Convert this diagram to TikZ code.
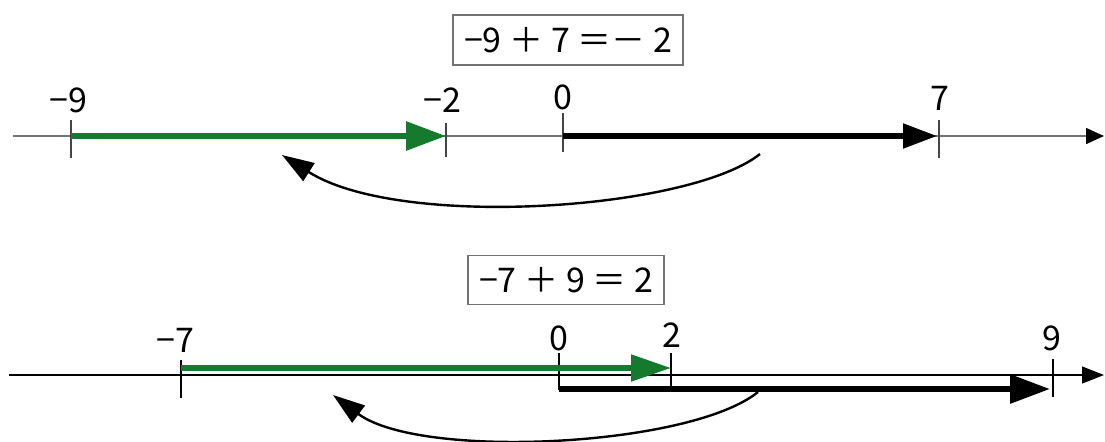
\documentclass[tikz,border=0pt]{standalone}
\usepackage{fontspec}
\setmainfont{Noto Sans CJK JP}
\usetikzlibrary{arrows.meta, calc}
\definecolor{numgreen}{RGB}{22,122,46}
\definecolor{axisgray}{RGB}{115,115,115}

\begin{document}
\begin{tikzpicture}[x=0.5pt, y=-0.5pt, font=\fontsize{17}{19}\selectfont,
  axisline/.style={line width=0.8pt, -{Triangle[length=9pt,width=8pt,color=black]}},
  tickline/.style={line width=0.6pt},
  greenmove/.style={numgreen, line width=3pt, -{Triangle[length=20pt,width=14pt]}},
  blackmove/.style={black, line width=2.6pt, -{Triangle[length=17pt,width=12pt]}},
  jump/.style={line width=1.2pt, -{Triangle[length=16pt,width=10.5pt]}},
  eqbox/.style={draw=axisgray, line width=0.8pt, inner sep=0pt},
  numlabel/.style={inner sep=0pt}]
  \useasboundingbox (0,0) rectangle (1105,441);

  % Upper number line
  \coordinate (ustart) at (13,136);
  \coordinate (uend) at (1104,136);
  \draw[axisline, axisgray] (ustart) -- (uend);
  \foreach \name/\x/\up/\dn in {m9/71/16/22, m2/446/13/21, z/563/23/16, p7/939/16/22}{
    \coordinate (u\name) at (\x,136);
    \draw[tickline, axisgray!60!black] ($(u\name)+(0,-\up)$) -- ($(u\name)+(0,\dn)$);
  }
  \node[numlabel] (lum9) at (68,100) {−9};
  \node[numlabel] (lum2) at (442,100) {−2};
  \node[numlabel] (luz) at (563,97) {0};
  \node[numlabel] (lup7) at (940,98) {7};
  \node[eqbox, minimum width=115pt, minimum height=25pt] (equ) at (568,40) {−9 ＋ 7 ＝－ 2};

  % Moves
  \draw[greenmove] (um9) -- (um2);
  \draw[blackmove] (uz) -- ($(up7)+(-2,0)$);
  \coordinate (jua) at (760,154);
  \coordinate (jub) at (282,155);
  \draw[jump] (jua) .. controls (690,210) and (400,230) .. (jub);

  % Lower number line
  \coordinate (lstart) at (9,375);
  \coordinate (lend) at (1104,375);
  \draw[line width=0.6pt, -{Triangle[length=11pt,width=8.5pt]}] (lstart) -- (lend);
  \foreach \name/\x/\up/\dn in {m7/181/15/23, z/559/22/15, p2/671/22/15, p9/1053/16/22}{
    \coordinate (l\name) at (\x,375);
    \draw[tickline] ($(l\name)+(0,-\up)$) -- ($(l\name)+(0,\dn)$);
  }
  \node[numlabel] (llm7) at (175,340) {−7};
  \node[numlabel] (llz) at (559,338) {0};
  \node[numlabel] (llp2) at (672,335) {2};
  \node[numlabel] (llp9) at (1052,338) {9};
  \node[eqbox, minimum width=98pt, minimum height=24.5pt] (eql) at (566,280) {−7 ＋ 9 ＝ 2};

  % Moves
  \draw[greenmove, line width=2.6pt, -{Triangle[length=20pt,width=13pt]}] ($(lm7)+(0,-7)$) -- ($(lp2)+(0,-7)$);
  \draw[blackmove, line width=3pt, -{Triangle[length=20pt,width=14pt]}] ($(lz)+(0,14)$) -- ($(lp9)+(-3,14)$);
  \coordinate (jla) at (758,392);
  \coordinate (jlb) at (333,395);
  \draw[jump] (jla) .. controls (690,447) and (420,460) .. (jlb);
\end{tikzpicture}
\end{document}
